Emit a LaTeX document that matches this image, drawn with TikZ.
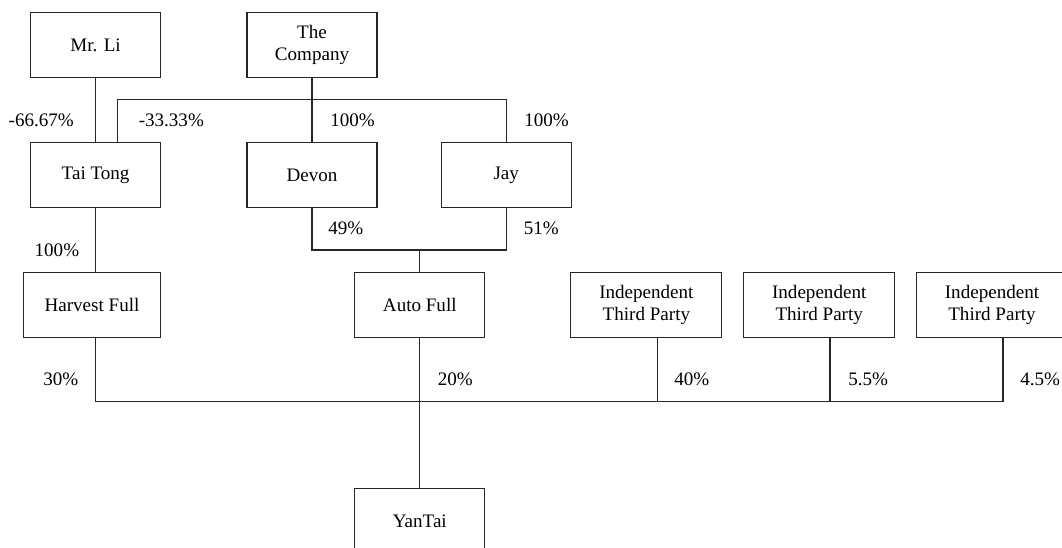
\documentclass[tikz,border=0pt]{standalone}
\usepackage{fontspec}
\setmainfont{Liberation Serif}
\usepackage{tikz}

\begin{document}
\begin{tikzpicture}[x=0.75pt, y=-0.75pt,
	entity/.style={draw=black!85, line width=0.8pt, align=center, inner sep=0pt,
		minimum width=97.5pt, minimum height=48.75pt},
	pct/.style={anchor=west, inner sep=0pt},
	link/.style={draw=black!85, line width=0.8pt},
	font=\fontsize{14.3}{16.6}\selectfont]

		\useasboundingbox (0,0) rectangle (1062,547);
		\clip (0,0) rectangle (1062,547);

		% owners
		\node[entity] (mrli)    at (95.6,45.2)  {Mr. Li};
		\node[entity] (company) at (312,45.2)   {The\\Company};

		% second row
		\node[entity] (taitong) at (95.6,175)   {Tai Tong};
		\node[entity] (devon)   at (312,175)    {Devon};
		\node[entity] (jay)     at (506.2,175)  {Jay};

		% third row
		\node[entity, minimum width=103pt] (harvest) at (92,304.6) {Harvest Full};
		\node[entity] (autofull) at (419.8,304.6) {Auto Full};
		\node[entity, minimum width=113.3pt] (thirdA) at (646.4,304.6) {Independent\\Third Party};
		\node[entity, minimum width=113.3pt] (thirdB) at (819.2,304.6) {Independent\\Third Party};
		\node[entity, minimum width=113.3pt] (thirdC) at (992,304.6)   {Independent\\Third Party};

		% target
		\node[entity] (yantai) at (419.8,520.8) {YanTai};

		% junction points
		\coordinate (ttjoin) at (117.5,99.3);
		\coordinate (dvjbar) at (419.8,250);
		\coordinate (busA)   at (657.6,401.7);
		\coordinate (busB)   at (830,401.7);
		\coordinate (busC)   at (1003,401.7);

		% top links
		\draw[link] (mrli) -- (taitong);
		\draw[link] (company) -- (devon);
		\draw[link] (taitong.north -| ttjoin) -- (ttjoin) -| (jay.north);

		% devon and jay to auto full
		\draw[link] (devon.south) |- (dvjbar) -| (jay.south);
		\draw[link] (dvjbar) -- (autofull.north);

		% tai tong to harvest full
		\draw[link] (taitong.south) -- (harvest.north -| taitong.south);

		% bottom bus
		\draw[link] (harvest.south -| taitong.south) |- (busC);
		\draw[link] (autofull) -- (yantai);
		\draw[link] (thirdA.south -| busA) -- (busA);
		\draw[link] (thirdB.south -| busB) -- (busB);
		\draw[link] (thirdC.south -| busC) -- (busC);

		% percentages
		\node[pct] (p1)  at (8.4,120)   {-66.67\%};
		\node[pct] (p2)  at (138.5,120) {-33.33\%};
		\node[pct] (p3)  at (330,120)   {100\%};
		\node[pct] (p4)  at (524,120)   {100\%};
		\node[pct] (p5)  at (328,228)   {49\%};
		\node[pct] (p6)  at (523.5,228) {51\%};
		\node[pct] (p7)  at (34.4,250)  {100\%};
		\node[pct] (p8)  at (43,379)    {30\%};
		\node[pct] (p9)  at (437.5,379) {20\%};
		\node[pct] (p10) at (674,379)   {40\%};
		\node[pct] (p11) at (848,379)   {5.5\%};
		\node[pct] (p12) at (1020,379)  {4.5\%};

\end{tikzpicture}
\end{document}
